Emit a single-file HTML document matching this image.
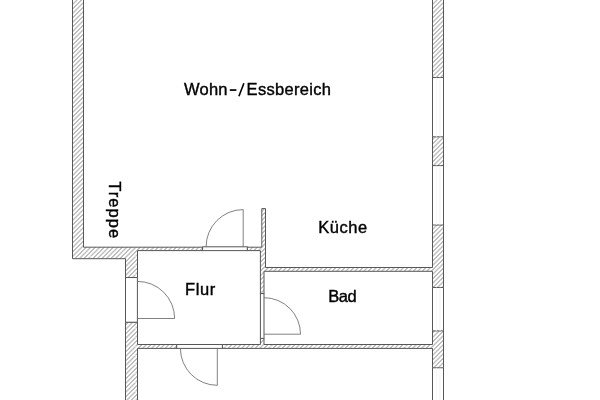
<!DOCTYPE html>
<html><head><meta charset="utf-8">
<style>
html,body{margin:0;padding:0;background:#fff;width:600px;height:400px;overflow:hidden}
svg{display:block;position:absolute;left:0;top:0}
.t{font-family:"Liberation Sans",sans-serif;fill:#000;stroke:#000;stroke-width:0.4}
svg{will-change:transform}
</style></head>
<body>
<svg width="600" height="400" viewBox="0 0 600 400">
<defs>
<pattern id="h" width="45" height="45" patternUnits="userSpaceOnUse" x="0.5" y="0"><path d="M0,0.00L45,-45.00M0,4.50L45,-40.50M0,9.00L45,-36.00M0,13.50L45,-31.50M0,18.00L45,-27.00M0,22.50L45,-22.50M0,27.00L45,-18.00M0,31.50L45,-13.50M0,36.00L45,-9.00M0,40.50L45,-4.50M0,45.00L45,0.00M0,49.50L45,4.50M0,54.00L45,9.00M0,58.50L45,13.50M0,63.00L45,18.00M0,67.50L45,22.50M0,72.00L45,27.00M0,76.50L45,31.50M0,81.00L45,36.00M0,85.50L45,40.50M0,90.00L45,45.00" stroke="#555" stroke-width="0.75" fill="none"/></pattern>
</defs>
<g fill="url(#h)" stroke="#575757" stroke-width="1" stroke-linejoin="miter">
<path d="M72.5,-5 L72.5,258.7 L125.5,258.7 L125.5,277.5 L137.5,277.5 L137.5,250.6 L202.6,250.6 L202.6,247.2 L83.5,247.2 L83.5,-5 Z"/>
<path d="M247.3,247.2 L261.8,247.2 L261.8,208.6 L265.5,208.6 L265.5,267.5 L432.5,267.5 L432.5,225 L443.5,225 L443.5,287.5 L432.5,287.5 L432.5,271.3 L264,271.3 L264,293.6 L260.4,293.6 L260.4,250.6 L247.3,250.6 Z"/>
<path d="M125.5,322.2 L137.5,322.2 L137.5,344.5 L176.7,344.5 L176.7,348.4 L137.5,348.4 L137.5,405 L125.5,405 Z"/>
<path d="M222.4,344.5 L260.4,344.5 L260.4,338.4 L264,338.4 L264,344.5 L432.5,344.5 L432.5,330.9 L443.5,330.9 L443.5,367.8 L432.5,367.8 L432.5,348.4 L222.4,348.4 Z"/>
<rect x="432.5" y="-5" width="11" height="82.5"/>
<rect x="432.5" y="136.8" width="11" height="28.8"/>
</g>
<g fill="none" stroke="#575757" stroke-width="1">
<path d="M432.5,77.5V136.8M443.5,77.5V136.8M432.5,165.6V225M443.5,165.6V225M432.5,287.5V330.9M443.5,287.5V330.9M432.5,367.8V405M443.5,367.8V405"/>
</g>
<g fill="none" stroke="#f3f3f3" stroke-width="0.8">
<path d="M436.3,77.5V136.8M440,77.5V136.8M436.3,165.6V225M440,165.6V225M436.3,287.5V330.9M440,287.5V330.9M436.3,367.8V400M440,367.8V400"/>
</g>
<g fill="#fff" stroke="#575757" stroke-width="1">
<rect x="125.5" y="277.5" width="11.9" height="44.7"/>
<rect x="202.6" y="246.8" width="44.7" height="3.8"/>
<rect x="176.7" y="344.5" width="45.7" height="3.9"/>
<rect x="260.4" y="293.6" width="3.6" height="44.8"/>
</g>
<!-- door leaves -->
<g fill="none" stroke="#6a6a6a" stroke-width="0.85">
<path d="M137.5,318.5 L174.6,318.5 A37.1,37.1 0 0 0 137.5,281.4"/>
<path d="M243.2,246.9 L243.2,209.6 A37.1,37.1 0 0 0 206.1,246.9"/>
<path d="M217.3,348.4 L217.3,385.3 A36.9,36.9 0 0 1 180.4,348.4"/>
<path d="M264,334.2 L300.5,334.2 A36.5,36.5 0 0 0 264,297.7"/>
</g>
<!-- labels -->
<text class="t" x="184" y="95.2" font-size="16.5" textLength="43.5" lengthAdjust="spacing">Wohn</text>
<rect x="229.8" y="89.2" width="6.6" height="1.7" fill="#000"/>
<line x1="238.9" y1="96.3" x2="243.9" y2="83.2" stroke="#000" stroke-width="1.6"/>
<text class="t" x="246.6" y="95.2" font-size="16.5" textLength="84.3" lengthAdjust="spacing">Essbereich</text>
<text class="t" x="318.2" y="233.2" font-size="16.5" textLength="49" lengthAdjust="spacing">Küche</text>
<text class="t" x="185" y="295" font-size="16.5" textLength="30.2" lengthAdjust="spacing">Flur</text>
<text class="t" x="328.2" y="302" font-size="16.5" textLength="28.5" lengthAdjust="spacing">Bad</text>
<text class="t" transform="translate(108.5,181.2) rotate(90)" x="0" y="0" font-size="16.5" textLength="57" lengthAdjust="spacing">Treppe</text>
</svg>
</body></html>
